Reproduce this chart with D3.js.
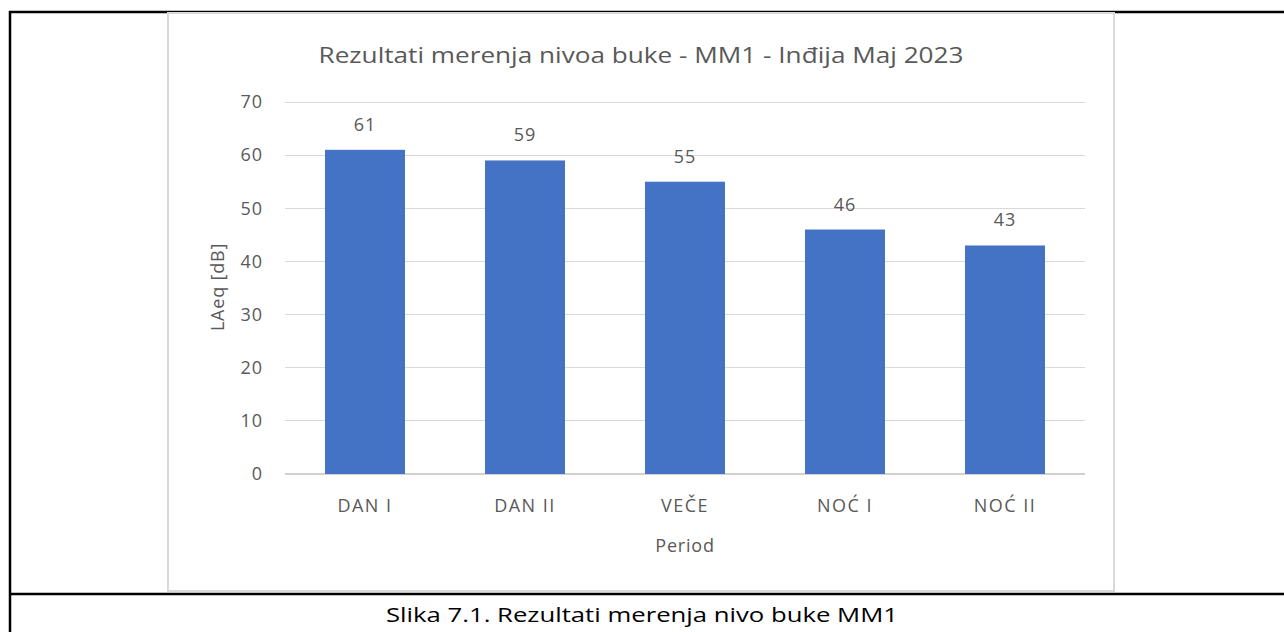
<!DOCTYPE html>
<html>
<head>
<meta charset="utf-8">
<script src="https://cdn.jsdelivr.net/npm/d3@7"></script>
<style>
  html, body { margin: 0; padding: 0; background: #fff; }
  svg { display: block; }
</style>
</head>
<body>
<svg id="chart" width="1284" height="632"></svg>
<script>
// Noise level measurements per period
const categories = ["DAN I", "DAN II", "VEČE", "NOĆ I", "NOĆ II"];
const values = [61, 59, 55, 46, 43];
const yTicks = [0, 10, 20, 30, 40, 50, 60, 70];

const titleText = "Rezultati merenja nivoa buke - MM1 - Inđija Maj 2023";
const yTitle = "LAeq [dB]";
const xTitle = "Period";
const caption = "Slika 7.1. Rezultati merenja nivo buke MM1";

const font = "'Open Sans', 'Noto Sans', sans-serif";
const textColor = "#595959";

const svg = d3.select("#chart");

// Table frame around the figure and its caption
const tbl = svg.append("g").attr("stroke", "#000").attr("stroke-width", 2.5);
tbl.append("line").attr("x1", 9).attr("x2", 1284).attr("y1", 12).attr("y2", 12);
tbl.append("line").attr("x1", 9).attr("x2", 1284).attr("y1", 594).attr("y2", 594);
tbl.append("line").attr("x1", 10).attr("x2", 10).attr("y1", 11).attr("y2", 632);

// Chart area border
svg.append("rect")
  .attr("x", 168).attr("y", 13)
  .attr("width", 946).attr("height", 578)
  .attr("fill", "#fff")
  .attr("stroke", "#d9d9d9").attr("stroke-width", 2);

// Plot area
const x = d3.scaleBand().domain(categories).range([285, 1085]).paddingInner(0.5).paddingOuter(0.25);
const y = d3.scaleLinear().domain([0, 70]).range([474, 102]);

// Gridlines
svg.append("g")
  .selectAll("line")
  .data(yTicks)
  .join("line")
  .attr("x1", 285).attr("x2", 1085)
  .attr("y1", d => y(d)).attr("y2", d => y(d))
  .attr("stroke", d => d === 0 ? "#d0d0d0" : "#d9d9d9")
  .attr("stroke-width", d => d === 0 ? 1.5 : 1)
  .attr("shape-rendering", "crispEdges");

// Y axis labels
const yAxis = svg.append("g")
  .attr("transform", "translate(285,0)")
  .call(d3.axisLeft(y).tickValues(yTicks).tickSize(0).tickPadding(22));
yAxis.select(".domain").remove();
yAxis.selectAll("text")
  .attr("font-family", font).attr("font-size", 18).attr("fill", textColor)
  .attr("letter-spacing", 1);

// X axis labels
const xAxis = svg.append("g")
  .attr("transform", "translate(0,474)")
  .call(d3.axisBottom(x).tickSize(0).tickPadding(25));
xAxis.select(".domain").remove();
xAxis.selectAll("text")
  .attr("font-family", font).attr("font-size", 18).attr("fill", textColor)
  .attr("letter-spacing", 1.5);

// Bars
svg.append("g")
  .selectAll("rect")
  .data(values)
  .join("rect")
  .attr("x", (d, i) => x(categories[i]))
  .attr("y", d => y(d))
  .attr("width", x.bandwidth())
  .attr("height", d => y(0) - y(d))
  .attr("fill", "#4472c4");

// Value labels
svg.append("g")
  .selectAll("text")
  .data(values)
  .join("text")
  .attr("x", (d, i) => x(categories[i]) + x.bandwidth() / 2)
  .attr("y", d => y(d) - 19)
  .attr("text-anchor", "middle")
  .attr("font-family", font).attr("font-size", 18).attr("fill", textColor)
  .attr("letter-spacing", 1)
  .text(d => d3.format("d")(d));

// Chart title
svg.append("text")
  .attr("x", 641).attr("y", 63)
  .attr("text-anchor", "middle")
  .attr("font-family", font).attr("font-size", 22).attr("fill", textColor)
  .attr("textLength", 645).attr("lengthAdjust", "spacingAndGlyphs")
  .text(titleText);

// Axis titles
svg.append("text")
  .attr("transform", "translate(224,287) rotate(-90)")
  .attr("text-anchor", "middle")
  .attr("font-family", font).attr("font-size", 18).attr("fill", textColor)
  .attr("letter-spacing", 0.8)
  .text(yTitle);

svg.append("text")
  .attr("x", 685).attr("y", 552)
  .attr("text-anchor", "middle")
  .attr("font-family", font).attr("font-size", 18).attr("fill", textColor)
  .attr("letter-spacing", 0.8)
  .text(xTitle);

// Figure caption
svg.append("text")
  .attr("x", 642).attr("y", 622)
  .attr("text-anchor", "middle")
  .attr("font-family", font).attr("font-size", 20).attr("fill", "#000")
  .attr("textLength", 512).attr("lengthAdjust", "spacingAndGlyphs")
  .text(caption);
</script>
</body>
</html>
